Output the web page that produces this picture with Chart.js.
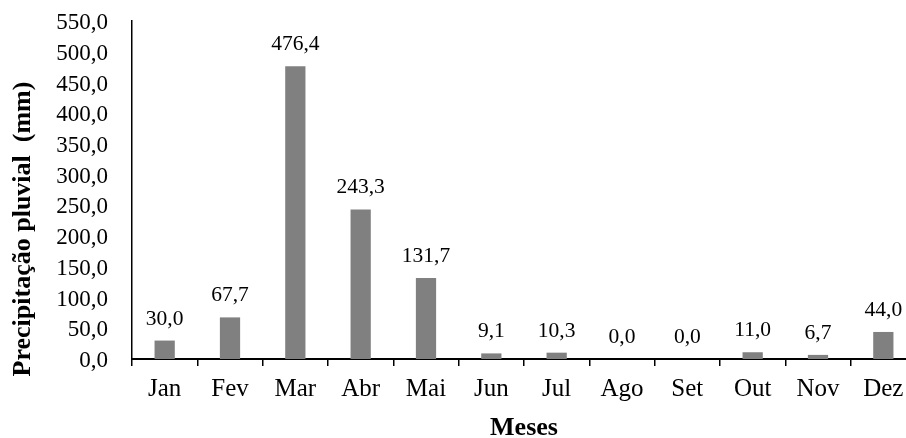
<!DOCTYPE html>
<html lang="pt">
<head>
    <meta charset="UTF-8">
    <title>Precipitação pluvial</title>
    <style>
body {
    margin: 0;
    padding: 0;
    background-color: #ffffff;
    overflow: hidden;
}

#wrap {
    position: relative;
    width: 918px;
    height: 438px;
}
    </style>
    <script src="https://cdn.jsdelivr.net/npm/chart.js"></script>
</head>
<body>
    <div id="wrap">
        <canvas id="rainChart"></canvas>
    </div>

    <script>
// Monthly rainfall data
const months = ['Jan', 'Fev', 'Mar', 'Abr', 'Mai', 'Jun', 'Jul', 'Ago', 'Set', 'Out', 'Nov', 'Dez'];
const rainfall = [30.0, 67.7, 476.4, 243.3, 131.7, 9.1, 10.3, 0.0, 0.0, 11.0, 6.7, 44.0];
const yTicks = [0, 50, 100, 150, 200, 250, 300, 350, 400, 450, 500, 550];

const SERIF = "'Liberation Serif', 'Times New Roman', serif";

// 476.4 -> "476,4"
function fmt(v) {
    return Number(v).toFixed(1).replace('.', ',');
}

// Value labels above each bar
const valueLabels = {
    id: 'valueLabels',
    afterDatasetsDraw(chart) {
        const ctx = chart.ctx;
        const meta = chart.getDatasetMeta(0);
        ctx.save();
        ctx.font = '21.5px ' + SERIF;
        ctx.fillStyle = '#000';
        ctx.textAlign = 'center';
        ctx.textBaseline = 'alphabetic';
        meta.data.forEach((bar, i) => {
            ctx.fillText(fmt(chart.data.datasets[0].data[i]), bar.x, bar.y - 16);
        });
        ctx.restore();
    }
};

// Vertical axis title (sits lower than the plot centre in the original)
const yTitle = {
    id: 'yTitle',
    afterDraw(chart) {
        const ctx = chart.ctx;
        ctx.save();
        ctx.translate(23, 229);
        ctx.rotate(-Math.PI / 2);
        ctx.font = 'bold 26px ' + SERIF;
        ctx.fillStyle = '#000';
        ctx.textAlign = 'center';
        ctx.textBaseline = 'middle';
        ctx.fillText('Precipitação pluvial  (mm)', 0, 0);
        ctx.restore();
    }
};

function renderChart() {
    const ctx = document.getElementById('rainChart').getContext('2d');
    new Chart(ctx, {
        type: 'bar',
        data: {
            labels: months,
            datasets: [{
                data: rainfall,
                backgroundColor: '#808080',
                borderWidth: 0,
                barPercentage: 0.31,
                categoryPercentage: 1.0
            }]
        },
        options: {
            responsive: true,
            maintainAspectRatio: false,
            animation: false,
            layout: { padding: { top: 21, right: 2, bottom: 0, left: 0 } },
            plugins: {
                legend: { display: false },
                tooltip: { enabled: false }
            },
            scales: {
                x: {
                    afterFit: scale => { scale.height = 79; },
                    grid: {
                        display: true,
                        offset: true,
                        drawOnChartArea: false,
                        drawTicks: true,
                        tickLength: 7,
                        color: '#000',
                        lineWidth: 1.5
                    },
                    border: { display: true, color: '#000', width: 2 },
                    ticks: {
                        color: '#000',
                        padding: 8,
                        maxRotation: 0,
                        font: { family: SERIF, size: 25 }
                    },
                    title: {
                        display: true,
                        text: 'Meses',
                        color: '#000',
                        padding: { top: 0, bottom: -3 },
                        font: { family: SERIF, size: 26, weight: 'bold', lineHeight: 1 }
                    }
                },
                y: {
                    min: 0,
                    max: 550,
                    afterFit: scale => {
                        scale.width = 132;
                        scale.paddingTop = 0;
                        scale.paddingBottom = 0;
                    },
                    afterBuildTicks: scale => {
                        scale.ticks = yTicks.map(v => ({ value: v }));
                    },
                    grid: { display: false, drawTicks: false },
                    border: { display: true, color: '#000', width: 1.5 },
                    ticks: {
                        color: '#000',
                        padding: 24,
                        labelOffset: 2,
                        autoSkip: false,
                        font: { family: SERIF, size: 23 },
                        callback: v => fmt(v)
                    }
                }
            }
        },
        plugins: [valueLabels, yTitle]
    });
}

renderChart();
    </script>
</body>
</html>
